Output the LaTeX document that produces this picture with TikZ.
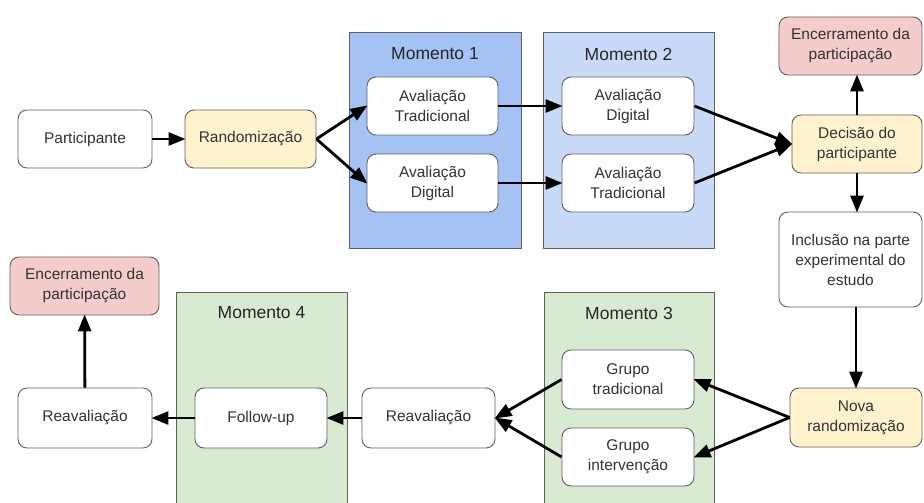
\documentclass[tikz,border=0pt]{standalone}
\usepackage{fontspec}
\setmainfont{Liberation Sans}
\usetikzlibrary{arrows.meta}
\definecolor{edge}{HTML}{5F5F5F}
\definecolor{ink}{HTML}{333333}
\definecolor{blueA}{HTML}{A4C2F4}
\definecolor{blueB}{HTML}{C9DAF8}
\definecolor{greenP}{HTML}{D9EAD3}
\definecolor{yellowB}{HTML}{FFF2CC}
\definecolor{pinkB}{HTML}{F4CCCC}
\tikzset{
  box/.style={draw=edge, line width=0.9pt, rounded corners=9pt, fill=white,
    align=center, text=ink, inner sep=0pt, minimum width=#1,
    font=\fontsize{15.5}{20}\selectfont},
  box/.default=132pt,
  panel/.style={draw=edge, line width=0.9pt},
  paneltitle/.style={text=black!85, font=\fontsize{17.5}{21}\selectfont},
  flow/.style={line width=2.8pt, -{Triangle[length=17pt,width=13pt]}, shorten >=-1pt},
}
\begin{document}
\begin{tikzpicture}[x=1pt,y=-1pt]
\clip (0,0) rectangle (924,503);
\fill[white] (0,0) rectangle (924,503);

% column panels
\draw[panel, fill=blueA] (349,32) rectangle (521,248);
\draw[panel, fill=blueB] (543,32) rectangle (714,248);
\draw[panel, fill=greenP] (544,292) rectangle (714,515);
\draw[panel, fill=greenP] (176,292) rectangle (347,515);
\node[paneltitle] (t1) at (435,54) {Momento 1};
\node[paneltitle] (t2) at (628.5,54) {Momento 2};
\node[paneltitle] (t3) at (629,313) {Momento 3};
\node[paneltitle] (t4) at (261.5,313) {Momento 4};

% first row
\node[box=134pt, minimum height=58pt] (part) at (85,139) {Participante};
\node[box=131pt, minimum height=58pt, fill=yellowB] (rand) at (250.5,139) {Randomização};
\node[box=131pt, minimum height=58pt] (m1a) at (432.5,106) {Avaliação\\Tradicional};
\node[box=131pt, minimum height=58pt] (m1b) at (432.5,183) {Avaliação\\Digital};
\node[box=132pt, minimum height=58pt] (m2a) at (628,106) {Avaliação\\Digital};
\node[box=132pt, minimum height=58pt] (m2b) at (628,183) {Avaliação\\Tradicional};

% right column
\node[box=143pt, minimum height=58pt, fill=pinkB] (end1) at (850.5,46) {Encerramento da\\participação};
\node[box=130pt, minimum height=58pt, fill=yellowB] (dec) at (857,144) {Decisão do\\participante};
\node[box=143pt, minimum height=95pt] (incl) at (850.5,259.5) {Inclusão na parte\\experimental do\\estudo};
\node[box=132pt, minimum height=59pt, fill=yellowB] (nova) at (856,417.5) {Nova\\randomização};

% second row
\node[box=132pt, minimum height=59pt] (gt) at (628,379.5) {Grupo\\tradicional};
\node[box=132pt, minimum height=58pt] (gi) at (628,457) {Grupo\\intervenção};
\node[box=133pt, minimum height=60pt] (rv2) at (428.5,418) {Reavaliação};
\node[box=132pt, minimum height=60pt] (fu) at (261,418) {Follow-up};
\node[box=134pt, minimum height=60pt] (rv1) at (85,418) {Reavaliação};
\node[box=149pt, minimum height=58pt, fill=pinkB] (end2) at (84.5,286) {Encerramento da\\participação};

% connectors
\draw[flow] (part) -- (rand);
\draw[flow] (rand.east) -- (m1a.west);
\draw[flow] (rand.east) -- (m1b.west);
\draw[flow] (m1a) -- (m2a);
\draw[flow] (m1b) -- (m2b);
\draw[flow] (m2a.east) -- (dec.west);
\draw[flow] (m2b.east) -- (dec.west);
\draw[flow] (dec.north) -- (dec.north |- end1.south);
\draw[flow] (dec.south) -- (dec.south |- incl.north);
\draw[flow] (incl.south -| nova.north) -- (nova.north);
\draw[flow] (nova.west) -- (gt.east);
\draw[flow] (nova.west) -- (gi.east);
\draw[flow] (gt.west) -- (rv2.east);
\draw[flow] (gi.west) -- (rv2.east);
\draw[flow] (rv2) -- (fu);
\draw[flow] (fu) -- (rv1);
\draw[flow] (rv1) -- (end2);
\end{tikzpicture}
\end{document}
